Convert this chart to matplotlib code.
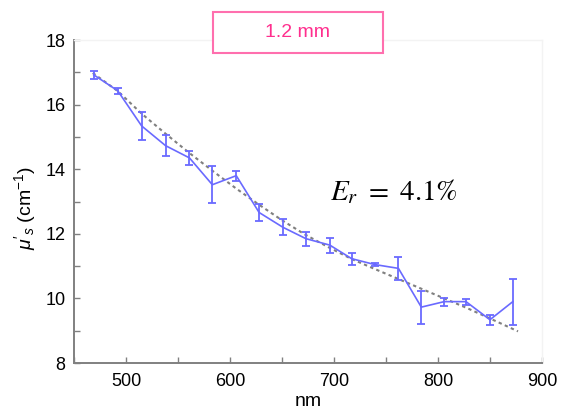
import matplotlib
matplotlib.use("Agg")
import matplotlib.pyplot as plt
from matplotlib.patches import Rectangle
from matplotlib.ticker import MultipleLocator

plt.rcParams["font.family"] = ["Liberation Sans", "DejaVu Sans"]
plt.rcParams["mathtext.fontset"] = "custom"
plt.rcParams["mathtext.rm"] = "Liberation Sans"
plt.rcParams["mathtext.it"] = "Liberation Sans:italic"

# measured reduced scattering coefficient, 1.2 mm sample
wavelength = [469, 492, 515, 538, 561, 583, 606, 628, 651, 673,
              696, 717, 739, 762, 784, 806, 827, 850, 872]
mu_s = [16.92, 16.43, 15.34, 14.73, 14.35, 13.52, 13.80, 12.66, 12.20, 11.85,
        11.65, 11.23, 11.05, 10.93, 9.73, 9.90, 9.90, 9.34, 9.90]
mu_err = [0.13, 0.09, 0.42, 0.33, 0.21, 0.57, 0.15, 0.26, 0.25, 0.22,
          0.23, 0.19, 0.04, 0.36, 0.51, 0.12, 0.09, 0.15, 0.71]

# reference curve
ref_wl = [468, 492, 515, 538, 561, 584, 606, 628, 650, 672,
          695, 717, 740, 762, 784, 806, 828, 850, 877]
ref_mu = [16.98, 16.42, 15.72, 15.10, 14.50, 13.93, 13.40, 12.90, 12.42, 11.98,
          11.58, 11.22, 10.90, 10.60, 10.30, 10.00, 9.70, 9.38, 8.98]

BLUE = "#6a6aff"
PINK_EDGE = "#ff6fae"
PINK_TEXT = "#ff2f8e"

fig = plt.figure(figsize=(5.61, 4.2), dpi=100)
ax = fig.add_axes([0.132, 0.1357, 0.834, 0.7690])

ax.plot(ref_wl, ref_mu, color="#808080", lw=1.5, ls=(0, (1.6, 1.6)), zorder=2)
ax.errorbar(wavelength, mu_s, yerr=mu_err, color=BLUE, lw=1.2,
            elinewidth=1.3, capsize=3.2, capthick=1.3, zorder=3)

ax.set_xlim(450, 900)
ax.set_ylim(8, 18)
ax.xaxis.set_major_locator(MultipleLocator(100))
ax.xaxis.set_minor_locator(MultipleLocator(50))
ax.yaxis.set_major_locator(MultipleLocator(2))
ax.yaxis.set_minor_locator(MultipleLocator(1))
ax.tick_params(which="both", direction="in", length=4, width=1.0,
               color="#808080", labelsize=13, top=False, right=False)
ax.tick_params(axis="x", pad=7)
ax.tick_params(axis="y", pad=6)

for side in ["left", "bottom"]:
    ax.spines[side].set_color("#808080")
    ax.spines[side].set_linewidth(1.4)
for side in ["top", "right"]:
    ax.spines[side].set_color("#f3f3f3")
    ax.spines[side].set_linewidth(1.0)

ax.set_xlabel("nm", fontsize=14, labelpad=2)
ax.set_ylabel(r"$\mu'_{s}$ (cm$^{-1}$)", fontsize=14)
ax.yaxis.set_label_coords(-0.078, 0.48)

ax.text(696, 13.3, r"$E_r\ =\ 4.1\%$", fontsize=21, ha="left", va="center",
        math_fontfamily="stix")

# sample thickness tag
fig.patches.append(Rectangle((0.380, 0.873), 0.303, 0.099, transform=fig.transFigure,
                             facecolor="white", edgecolor=PINK_EDGE, lw=1.5, zorder=5))
fig.text(0.531, 0.922, "1.2 mm", color=PINK_TEXT, fontsize=14,
         ha="center", va="center", zorder=6)

fig.savefig("out.png", dpi=100)
